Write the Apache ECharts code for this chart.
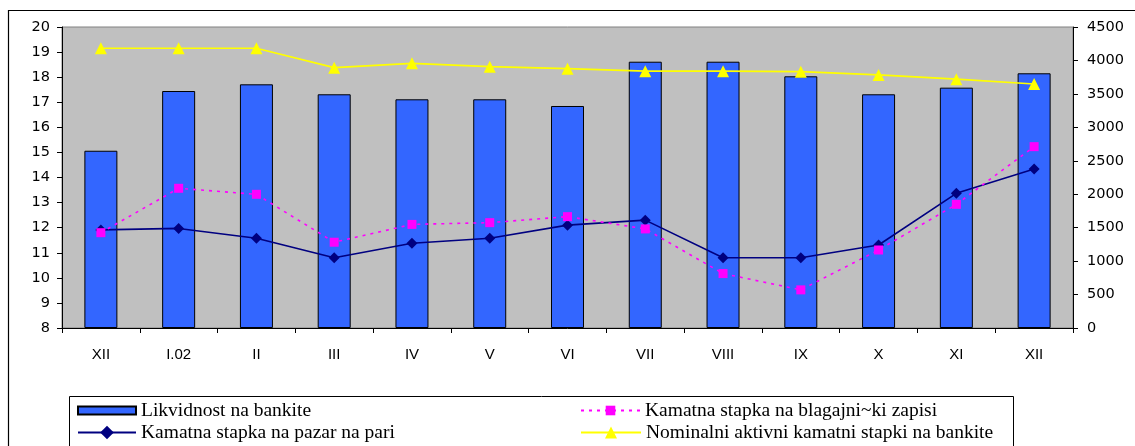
<!DOCTYPE html>
<html>
<head>
<meta charset="utf-8">
<script src="https://cdn.jsdelivr.net/npm/echarts@6/dist/echarts.min.js"></script>
<style>
html,body{margin:0;padding:0;background:#fff;}
#chart{width:1135px;height:446px;}
</style>
</head>
<body>
<div id="chart"></div>
<script>
var categories = ['XII','I.02','II','III','IV','V','VI','VII','VIII','IX','X','XI','XII'];
var likvidnost = [2650, 3543, 3643, 3494, 3419, 3419, 3319, 3981, 3981, 3763, 3494, 3593, 3808];
var pazarNaPari = [11.91, 11.97, 11.58, 10.8, 11.38, 11.58, 12.1, 12.3, 10.8, 10.8, 11.31, 13.37, 14.34];
var blagajnicki = [11.8, 13.57, 13.33, 11.42, 12.13, 12.2, 12.44, 11.95, 10.17, 9.52, 11.11, 12.93, 15.23];
var nominalni = [19.15, 19.15, 19.15, 18.38, 18.55, 18.42, 18.34, 18.24, 18.24, 18.22, 18.09, 17.92, 17.73];
var leftTicks = {min: 8, max: 20, interval: 1};
var rightTicks = {min: 0, max: 4500, interval: 500};
var names = ['Likvidnost na bankite', 'Kamatna stapka na pazar na pari', 'Kamatna stapka na blagajni~ki zapisi', 'Nominalni aktivni kamatni stapki na bankite'];

var chart = echarts.init(document.getElementById('chart'));
var axisFont = {fontFamily: 'Liberation Sans, Arial, sans-serif', fontSize: 15, color: '#000'};
var valFont = {fontFamily: 'DejaVu Sans, sans-serif', fontSize: 14.5, color: '#000'};
var legendFont = {fontFamily: 'Liberation Serif, Times New Roman, serif', fontSize: 19.5, color: '#000', lineHeight: 19};
function plain(v) { return String(v); }

function leg(name, left, top, w, h, icon) {
  return {left: left, top: top, orient: 'horizontal', itemWidth: w, itemHeight: h, padding: 0, itemGap: 0,
    data: [icon ? {name: name, icon: icon} : name], textStyle: legendFont, selectedMode: false};
}

chart.setOption({
  animation: false,
  backgroundColor: '#fff',
  grid: {left: 62, right: 62, top: 27, bottom: 118, show: true, backgroundColor: '#C0C0C0', borderColor: '#808080', borderWidth: 1},
  xAxis: {
    type: 'category', data: categories, boundaryGap: true,
    axisLine: {lineStyle: {color: '#000', width: 1}},
    axisTick: {show: true, length: 5, lineStyle: {color: '#000'}},
    axisLabel: Object.assign({margin: 19}, axisFont)
  },
  yAxis: [
    {type: 'value', min: leftTicks.min, max: leftTicks.max, interval: leftTicks.interval, position: 'left',
     axisLine: {show: true, lineStyle: {color: '#000'}}, axisTick: {show: true, length: 5, lineStyle: {color: '#000'}},
     splitLine: {show: false}, axisLabel: Object.assign({margin: 12, formatter: plain}, valFont)},
    {type: 'value', min: rightTicks.min, max: rightTicks.max, interval: rightTicks.interval, position: 'right',
     axisLine: {show: true, lineStyle: {color: '#000'}}, axisTick: {show: true, length: 5, lineStyle: {color: '#000'}},
     splitLine: {show: false}, axisLabel: Object.assign({margin: 14, formatter: plain}, valFont)}
  ],
  legend: [
    leg(names[0], 77, 400.5, 58, 8, 'rect'),
    leg(names[1], 77, 422.5, 58, 17),
    leg(names[2], 580, 400.5, 59, 12),
    leg(names[3], 580, 422.5, 60, 15)
  ],
  graphic: [
    {type: 'rect', shape: {x: 8.5, y: 10.5, width: 1140, height: 450}, style: {fill: null, stroke: '#000', lineWidth: 1.2}, silent: true, z: -1},
    {type: 'rect', shape: {x: 69.5, y: 396.5, width: 944, height: 60}, style: {fill: null, stroke: '#000', lineWidth: 1}, silent: true}
  ],
  series: [
    {name: names[0], type: 'bar', yAxisIndex: 1, data: likvidnost, barWidth: 33,
     itemStyle: {color: '#3366FF', borderColor: '#000', borderWidth: 1}},
    {name: names[1], type: 'line', yAxisIndex: 0, data: pazarNaPari,
     symbol: 'diamond', symbolSize: 11, lineStyle: {color: '#000080', width: 1.6},
     itemStyle: {color: '#000080'}},
    {name: names[2], type: 'line', yAxisIndex: 0, data: blagajnicki,
     symbol: 'rect', symbolSize: 9, lineStyle: {color: '#FF00FF', width: 1.6, type: [3, 5]},
     itemStyle: {color: '#FF00FF'}},
    {name: names[3], type: 'line', yAxisIndex: 0, data: nominalni,
     symbol: 'triangle', symbolSize: 12, lineStyle: {color: '#FFFF00', width: 1.6},
     itemStyle: {color: '#FFFF00'}}
  ]
});
</script>
</body>
</html>
